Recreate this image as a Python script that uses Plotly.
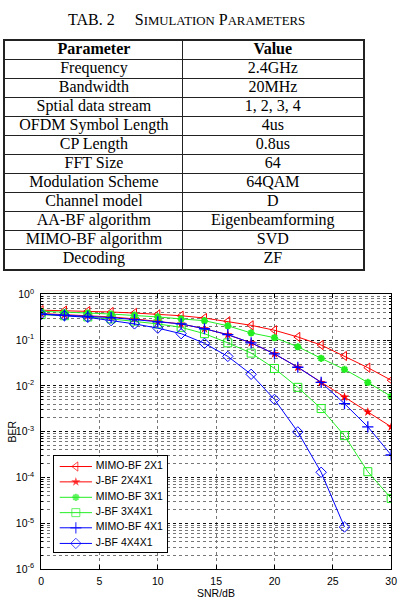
import plotly.graph_objects as go

W, H = 404, 610

# ---------------- table data ----------------
table_title = "TAB. 2"
param_names = ["Frequency", "Bandwidth", "Sptial data stream", "OFDM Symbol Length",
               "CP Length", "FFT Size", "Modulation Scheme", "Channel model",
               "AA-BF algorithm", "MIMO-BF algorithm", "Decoding"]
param_values = ["2.4GHz", "20MHz", "1, 2, 3, 4", "4us", "0.8us", "64", "64QAM", "D",
                "Eigenbeamforming", "SVD", "ZF"]
table_header = ["Parameter", "Value"]

# ---------------- chart data ----------------
snr = [0, 2, 4, 6, 8, 10, 12, 14, 16, 18, 20, 22, 24, 26, 28, 30]
snr_4x4x1 = [0, 2, 4, 6, 8, 10, 12, 14, 16, 18, 20, 22, 24, 26]
mimo_2x1 = [0.45, 0.44, 0.43, 0.41, 0.39, 0.365, 0.34, 0.303, 0.257, 0.21, 0.164,
            0.117, 0.078, 0.045, 0.025, 0.0133]
jbf_2x4x1 = [0.38, 0.36, 0.34, 0.32, 0.29, 0.26, 0.225, 0.177, 0.131, 0.087, 0.050,
             0.0255, 0.0119, 0.0057, 0.0027, 0.00128]
mimo_3x1 = [0.425, 0.40, 0.39, 0.37, 0.35, 0.32, 0.29, 0.265, 0.205, 0.143, 0.113,
            0.0716, 0.040, 0.0229, 0.0119, 0.0059]
jbf_3x4x1 = [0.36, 0.34, 0.32, 0.29, 0.26, 0.225, 0.19, 0.138, 0.087, 0.052, 0.024,
             0.0093, 0.0032, 0.00082, 0.000134, 0.000035]
mimo_4x1 = [0.37, 0.35, 0.33, 0.31, 0.28, 0.25, 0.225, 0.177, 0.131, 0.087, 0.050,
            0.0255, 0.0119, 0.0041, 0.00128, 0.00031]
jbf_4x4x1 = [0.368, 0.34, 0.313, 0.266, 0.226, 0.182, 0.138, 0.085, 0.044, 0.0179,
             0.00506, 0.00099, 0.00013, 0.0000083]

y_tickvals = [1e-6, 1e-5, 1e-4, 1e-3, 1e-2, 1e-1, 1]
y_ticktext = ["10<sup>-6</sup>", "10<sup>-5</sup>", "10<sup>-4</sup>", "10<sup>-3</sup>",
              "10<sup>-2</sup>", "10<sup>-1</sup>", "10<sup>0</sup>"]
x_tickvals = [0, 5, 10, 15, 20, 25, 30]

RED = "#ff0000"
GREEN = "#22ee22"
BLUE = "#0000ff"

series = [
    ("MIMO-BF 2X1", snr, mimo_2x1, RED, "triangle-left-open", 8, 1),
    ("J-BF 2X4X1", snr, jbf_2x4x1, RED, "star", 7, 0),
    ("MIMO-BF 3X1", snr, mimo_3x1, GREEN, "asterisk-open", 6, 2),
    ("J-BF 3X4X1", snr, jbf_3x4x1, GREEN, "square-open", 8, 1),
    ("MIMO-BF 4X1", snr, mimo_4x1, BLUE, "cross-thin-open", 8, 1.3),
    ("J-BF 4X4X1", snr_4x4x1, jbf_4x4x1, BLUE, "diamond-open", 8, 1),
]


def px_x(p):
    return p / W


def px_y(p):
    return 1 - p / H


serif = "Liberation Serif, Times New Roman, serif"
sans = "Liberation Sans, Arial, sans-serif"

fig = go.Figure()

# ---------------- table (drawn on its own hidden axes) ----------------
col_w = [182, 184]
n_rows = len(param_names) + 1
col_centers = [col_w[0] / 2, col_w[0] + col_w[1] / 2]
tbl_x, tbl_y, tbl_t = [], [], []
for c, (head, vals) in enumerate(zip(table_header, [param_names, param_values])):
    tbl_x.append(col_centers[c]); tbl_y.append(0.5); tbl_t.append("<b>%s</b>" % head)
    for r, v in enumerate(vals):
        tbl_x.append(col_centers[c]); tbl_y.append(r + 1.5); tbl_t.append(v)
fig.add_trace(go.Scatter(
    x=tbl_x, y=tbl_y, text=tbl_t, mode="text", textposition="middle center",
    textfont=dict(family=serif, size=16, color="black"),
    xaxis="x2", yaxis="y2", showlegend=False, hoverinfo="skip",
))

sc = "font-size:12.8px"
fig.add_annotation(
    xref="paper", yref="paper", x=px_x(188), y=px_y(1), xanchor="center", yanchor="top",
    text=(table_title + "&#160;&#160;&#160;&#160;&#160;S<span style='%s'>IMULATION</span> "
          "P<span style='%s'>ARAMETERS</span>") % (sc, sc),
    showarrow=False, font=dict(family=serif, size=16, color="black"),
)

# ---------------- chart ----------------
for name, xs, ys, col, sym, size, lw in series:
    fig.add_trace(go.Scatter(
        x=xs, y=ys, name=name, mode="lines+markers",
        line=dict(color=col, width=1),
        marker=dict(symbol=sym, size=size, color=col,
                    line=dict(color=col, width=lw)),
        xaxis="x", yaxis="y", showlegend=False,
    ))

# ---------------- legend (own small axes, 1 unit = 1 px) ----------------
leg_w, leg_h = 116, 98
leg_rows = [10.3, 26, 41.8, 57.5, 73, 89]
for (name, xs, ys, col, sym, size, lw), ly in zip(series, leg_rows):
    fig.add_trace(go.Scatter(
        x=[6, 22.5, 39], y=[ly, ly, ly], mode="lines+markers",
        line=dict(color=col, width=1),
        marker=dict(symbol=sym, size=[0, size, 0], color=col,
                    line=dict(color=col, width=lw)),
        xaxis="x3", yaxis="y3", showlegend=False, hoverinfo="skip",
    ))
fig.add_trace(go.Scatter(
    x=[43] * len(series), y=leg_rows, text=[s[0] for s in series], mode="text",
    textposition="middle right", textfont=dict(family=sans, size=10.5, color="black"),
    xaxis="x3", yaxis="y3", showlegend=False, hoverinfo="skip",
))
fig.add_shape(type="rect", xref="x3", yref="y3", x0=0, x1=leg_w, y0=0, y1=leg_h,
              fillcolor="white", line=dict(width=0), layer="below")

minor_vals = [k * 10 ** e for e in range(-6, 0) for k in range(2, 10)]
hidden = dict(showgrid=False, zeroline=False, showticklabels=False, ticks="")

fig.update_layout(
    width=W, height=H, autosize=False,
    margin=dict(l=0, r=0, t=0, b=0),
    paper_bgcolor="white", plot_bgcolor="rgba(0,0,0,0)",
    font=dict(family=sans, size=10.5, color="black"),
    showlegend=False,
    xaxis=dict(
        domain=[px_x(39), px_x(397)], range=[0, 30],
        tickmode="array", tickvals=x_tickvals,
        ticks="inside", ticklen=4, tickcolor="black",
        showline=True, linecolor="black", linewidth=1, mirror="allticks",
        showgrid=True, gridcolor="#777777", griddash="dot", gridwidth=1,
        zeroline=False, tickfont=dict(family=sans, size=10.5, color="black"),
        anchor="y", ticklabelstandoff=2,
    ),
    yaxis=dict(
        domain=[px_y(574.3), px_y(293)], type="log", range=[-6, 0],
        tickmode="array", tickvals=y_tickvals, ticktext=y_ticktext,
        ticks="inside", ticklen=4, tickcolor="black",
        showline=True, linecolor="black", linewidth=1, mirror="allticks",
        showgrid=True, gridcolor="#111111", griddash="dot", gridwidth=1,
        minor=dict(tickmode="array", tickvals=minor_vals, ticks="inside", ticklen=2,
                   tickcolor="black", showgrid=True, gridcolor="#777777",
                   griddash="dot", gridwidth=1),
        zeroline=False, tickfont=dict(family=sans, size=10.5, color="black"),
        anchor="x", ticklabelstandoff=4,
    ),
    xaxis2=dict(
        domain=[px_x(2), px_x(368)], range=[0, sum(col_w)], anchor="y2",
        tickmode="array", tickvals=[col_w[0]], showgrid=True, gridcolor="#222",
        gridwidth=1, zeroline=False, showticklabels=False, ticks="",
        showline=True, linecolor="#222", linewidth=1.5, mirror=True, fixedrange=True,
    ),
    yaxis2=dict(
        domain=[px_y(266.7), px_y(33.3)], range=[n_rows, 0], anchor="x2",
        tickmode="array", tickvals=list(range(1, n_rows)), showgrid=True,
        gridcolor="#222", gridwidth=1, zeroline=False, showticklabels=False, ticks="",
        showline=True, linecolor="#222", linewidth=1.5, mirror=True, fixedrange=True,
    ),
    xaxis3=dict(
        domain=[px_x(52), px_x(52 + leg_w)], range=[0, leg_w], anchor="y3",
        showline=True, linecolor="black", linewidth=1.2, mirror=True, fixedrange=True,
        **hidden,
    ),
    yaxis3=dict(
        domain=[px_y(459 + leg_h), px_y(459)], range=[leg_h, 0], anchor="x3",
        showline=True, linecolor="black", linewidth=1.2, mirror=True, fixedrange=True,
        **hidden,
    ),
)

fig.add_annotation(xref="paper", yref="paper", x=px_x(218), y=px_y(607),
                   xanchor="center", yanchor="bottom", text="SNR/dB", showarrow=False,
                   font=dict(family=sans, size=10.5, color="black"))
fig.add_annotation(xref="paper", yref="paper", x=px_x(1.5), y=px_y(433),
                   xanchor="left", yanchor="middle", text="BER", showarrow=False,
                   textangle=-90, font=dict(family=sans, size=10.5, color="black"))

fig.write_html("out.html", config={"displayModeBar": False})
